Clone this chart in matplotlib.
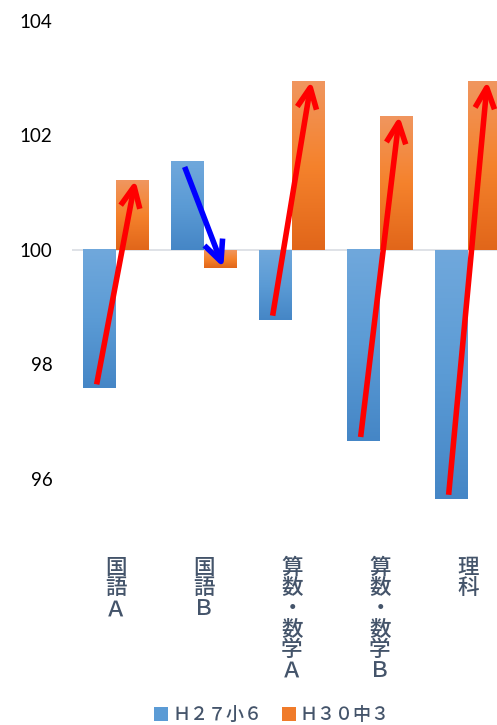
import numpy as np
import matplotlib
matplotlib.use('Agg')
from matplotlib import pyplot as plt
from matplotlib.colors import LinearSegmentedColormap
from matplotlib.lines import Line2D

# scores relative to the national average (=100)
subjects = ['国語Ａ', '国語Ｂ', '算数・数学Ａ', '算数・数学Ｂ', '理科']
h27 = [97.58, 101.54, 98.78, 96.66, 95.65]
h30 = [101.22, 99.69, 102.95, 102.34, 102.95]
series_names = ['Ｈ２７小６', 'Ｈ３０中３']
yticks = [96, 98, 100, 102, 104]

blue_cmap = LinearSegmentedColormap.from_list('b', ['#4586C6', '#5B9BD5', '#70A8DC'])
orange_cmap = LinearSegmentedColormap.from_list('o', ['#E1661A', '#F5822C', '#F0965F'])
txt_col = '#44546A'
cjk = ['Noto Sans CJK JP', 'DejaVu Sans']

fig = plt.figure(figsize=(4.97, 7.25), dpi=100)
ax = fig.add_axes([72/497., 189/725., 440/497., 515/725.])

x = np.arange(len(subjects))
w = 0.37
base = 100

def gradient_bars(xs, vals, cmap):
    bars = ax.bar(xs, np.array(vals) - base, w, bottom=base, color='none', zorder=2)
    grad = np.linspace(1, 0, 256).reshape(-1, 1)
    for b in bars:
        x0 = b.get_x()
        y0 = b.get_y()
        y1 = y0 + b.get_height()
        ax.imshow(grad, cmap=cmap, aspect='auto', zorder=2,
                  extent=(x0, x0 + b.get_width(), min(y0, y1), max(y0, y1)))
    return bars

ax.axhline(base, color='#D9DDE3', lw=1.2, zorder=1)
gradient_bars(x - w/2, h27, blue_cmap)
gradient_bars(x + w/2, h30, orange_cmap)

# arrows showing the change from H27 to H30
for i in range(len(subjects)):
    a, b = h27[i], h30[i]
    col = '#FF0000' if b > a else '#0000FF'
    ystart = a + (0.07 if a < base else -0.09)
    ax.annotate('', xy=(i + 0.22, b), xytext=(i - 0.22, ystart),
                arrowprops=dict(arrowstyle='->,head_length=0.75,head_width=0.35',
                                mutation_scale=20, lw=4, color=col,
                                shrinkA=0, shrinkB=0, capstyle='butt'),
                zorder=3)

ax.set_xlim(-0.5, len(subjects) - 0.5)
ax.set_ylim(95, 104)
ax.set_yticks(yticks)
ax.set_yticklabels([str(t) for t in yticks], fontsize=13.5, family='Lato', color='#000000')
ax.set_xticks(x)
ax.set_xticklabels(['\n'.join(s) for s in subjects], family=cjk, fontsize=15.5,
                   fontweight='medium', color=txt_col, linespacing=0.92, va='top')
ax.tick_params(axis='both', length=0)
ax.tick_params(axis='y', pad=14)
ax.tick_params(axis='x', pad=15)
for s in ax.spines.values():
    s.set_visible(False)

handles = [Line2D([], [], ls='none', marker='s', markersize=9.5, color=c, markeredgewidth=0)
           for c in ['#5B9BD5', '#F07B2A']]
leg = fig.legend(handles, series_names, loc='center', bbox_to_anchor=(272/497., 1 - 715/725.),
                 ncol=2, frameon=False,
                 prop={'family': cjk, 'size': 13, 'weight': 'medium'},
                 handlelength=0.8, handletextpad=0.2, columnspacing=1.1, borderpad=0)
for t in leg.get_texts():
    t.set_color(txt_col)

plt.savefig('out.png', dpi=100)
